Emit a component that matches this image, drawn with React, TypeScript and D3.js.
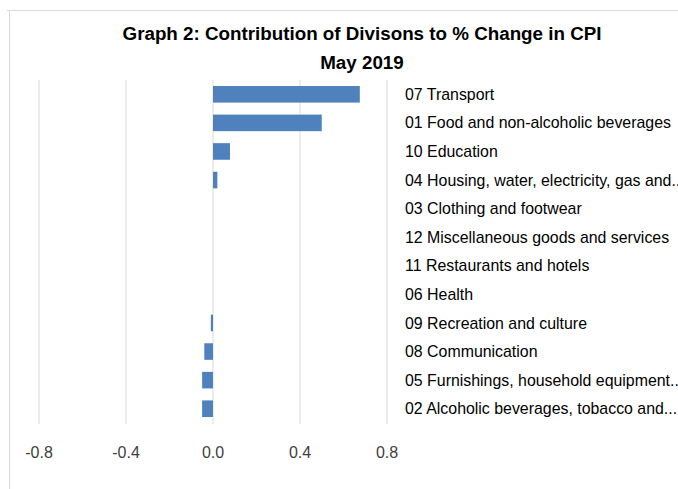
import React from "react";
import * as d3 from "d3";

const categories = [
  "07 Transport",
  "01 Food and non-alcoholic beverages",
  "10 Education",
  "04 Housing, water, electricity, gas and...",
  "03 Clothing and footwear",
  "12 Miscellaneous goods and services",
  "11 Restaurants and hotels",
  "06 Health",
  "09 Recreation and culture",
  "08 Communication",
  "05 Furnishings, household equipment...",
  "02 Alcoholic beverages, tobacco and...",
];
const contributions = [0.675, 0.5, 0.078, 0.02, 0, 0, 0, 0, -0.01, -0.04, -0.05, -0.05];
const xTicks = [-0.8, -0.4, 0.0, 0.4, 0.8];
const titleLines = ["Graph 2: Contribution of Divisons to % Change in CPI", "May 2019"];

const W = 678;
const H = 489;
const font = "'Liberation Sans', Arial, sans-serif";

export default function App() {
  const x = d3.scaleLinear().domain([-0.8, 0.8]).range([39, 387]);
  const y = d3.scaleBand().domain(categories).range([80, 423]).paddingInner(0.42).paddingOuter(0.21);
  const gridTop = 80;
  const gridBottom = 424;

  return (
    <svg
      width={W}
      height={H}
      style={{ position: "absolute", left: 0, top: 0, background: "#fff" }}
      fontFamily={font}
    >
      {/* chart frame */}
      <line x1={7} x2={W} y1={10.5} y2={10.5} stroke="#d9d9d9" />
      <line x1={9.5} x2={9.5} y1={10} y2={H} stroke="#d9d9d9" />

      {titleLines.map((t, i) => (
        <text
          key={i}
          x={362}
          y={40 + i * 29}
          textAnchor="middle"
          fontSize={18.8}
          fontWeight="bold"
          fill="#000"
        >
          {t}
        </text>
      ))}

      {xTicks.map((t) => (
        <g key={t}>
          <line x1={x(t)} x2={x(t)} y1={gridTop} y2={gridBottom} stroke="#d9d9d9" />
          <text x={x(t)} y={458} textAnchor="middle" fontSize={16} fill="#404040">
            {t.toFixed(1)}
          </text>
        </g>
      ))}

      {categories.map((c, i) => {
        const v = contributions[i];
        const y0 = y(c) ?? 0;
        return (
          <rect
            key={c}
            x={Math.min(x(0), x(v))}
            y={y0}
            width={Math.abs(x(v) - x(0))}
            height={y.bandwidth()}
            fill="#4f81bd"
          />
        );
      })}

      {categories.map((c) => (
        <text
          key={c}
          x={405}
          y={(y(c) ?? 0) + y.bandwidth() / 2}
          dy="0.35em"
          fontSize={15.9}
          fill="#000"
        >
          {c}
        </text>
      ))}
    </svg>
  );
}
